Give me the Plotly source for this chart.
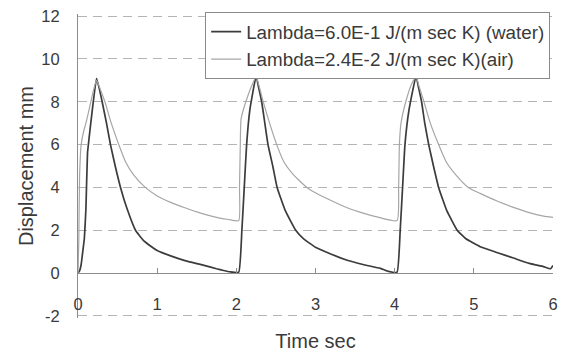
import plotly.graph_objects as go

# ---- data ----
water_t = [0.00, 0.02, 0.04, 0.06, 0.08, 0.10, 0.12, 0.14, 0.18, 0.234,
           0.27, 0.305, 0.36, 0.41, 0.47, 0.537, 0.62, 0.726, 0.82, 0.92,
           1.00, 1.17, 1.35, 1.58, 1.75, 1.84, 1.92, 2.03,
           2.07, 2.10, 2.13, 2.17, 2.25, 2.28, 2.32, 2.36, 2.40, 2.46,
           2.515, 2.62, 2.75, 2.85, 3.00, 3.20, 3.40, 3.60, 3.82, 3.92, 4.03,
           4.07, 4.10, 4.13, 4.18, 4.27, 4.30, 4.34, 4.38, 4.43, 4.49,
           4.555, 4.66, 4.79, 4.90, 5.08, 5.30, 5.50, 5.70, 5.88, 5.97, 6.00]
water_v = [0.0, 0.1, 0.4, 1.0, 1.6, 3.0, 5.6, 6.3, 7.6, 9.1,
           8.6, 8.0, 7.0, 6.0, 5.0, 4.0, 3.0, 2.0, 1.55, 1.25,
           1.05, 0.8, 0.58, 0.37, 0.2, 0.12, 0.06, 0.04,
           2.0, 4.0, 6.0, 7.6, 9.2, 8.7, 8.0, 7.0, 6.0, 5.0,
           4.0, 2.9, 2.0, 1.6, 1.2, 0.88, 0.6, 0.4, 0.22, 0.08, 0.04,
           2.0, 4.0, 6.0, 7.6, 9.2, 8.7, 8.0, 7.0, 6.0, 5.0,
           4.0, 2.9, 2.0, 1.6, 1.23, 0.95, 0.7, 0.45, 0.3, 0.2, 0.35]

air_t = [0.00, 0.01, 0.02, 0.04, 0.07, 0.10, 0.15, 0.20, 0.234,
         0.28, 0.34, 0.42, 0.515, 0.60, 0.70, 0.85, 1.00, 1.17, 1.35,
         1.55, 1.75, 1.90, 2.03,
         2.04, 2.05, 2.06, 2.12, 2.20, 2.25, 2.29, 2.34, 2.42, 2.51,
         2.60, 2.72, 2.89, 3.00, 3.19, 3.40, 3.60, 3.80, 4.03,
         4.05, 4.06, 4.08, 4.14, 4.21, 4.27, 4.31, 4.37, 4.45, 4.555,
         4.65, 4.77, 4.93, 5.08, 5.30, 5.50, 5.70, 5.88, 6.00]
air_v = [0.0, 1.5, 4.5, 6.0, 6.6, 7.0, 7.8, 8.6, 9.0,
         8.6, 8.0, 7.0, 6.0, 5.2, 4.6, 4.0, 3.6, 3.3, 3.05,
         2.8, 2.6, 2.5, 2.45,
         4.0, 6.0, 7.2, 8.0, 8.8, 9.15, 8.7, 8.0, 7.0, 6.0,
         5.2, 4.6, 4.0, 3.75, 3.4, 3.05, 2.8, 2.6, 2.45,
         4.0, 6.0, 7.0, 8.0, 8.8, 9.15, 8.7, 8.0, 7.0, 6.0,
         5.2, 4.6, 4.0, 3.72, 3.35, 3.07, 2.82, 2.66, 2.6]

series_names = ["Lambda=6.0E-1 J/(m sec K) (water)",
                "Lambda=2.4E-2 J/(m sec K)(air)"]

x_range = [0, 6]
y_range = [-2.1, 12.1]   # a little wider so the -2 and 12 grid lines show
x_ticks = [0, 1, 2, 3, 4, 5, 6]
y_ticks = [-2, 0, 2, 4, 6, 8, 10, 12]
y_tick_text = ["-2", "0", "2", "4", "6", "8", "10", "12"]

FONT = "Arial, Liberation Sans, sans-serif"
TXT = "#3a3a3a"
AX = "#8c8c8c"

fig = go.Figure()
fig.add_trace(go.Scatter(x=water_t, y=water_v, mode="lines", name=series_names[0],
                         line=dict(color="#3c3c3c", width=1.7, shape="spline", smoothing=0.35)))
fig.add_trace(go.Scatter(x=air_t, y=air_v, mode="lines", name=series_names[1],
                         line=dict(color="#a6a6a6", width=1.2, shape="spline", smoothing=0.5)))

# x axis crosses the y axis at y = 0
zero_pos = (0 - y_range[0]) / (y_range[1] - y_range[0])

fig.update_layout(
    template="none",
    width=561, height=352,
    margin=dict(l=78, r=8, t=14, b=34),
    paper_bgcolor="white", plot_bgcolor="white",
    font=dict(family=FONT, size=16.5, color=TXT),
    showlegend=True,
    legend=dict(x=0.994, xanchor="right", y=1.007, yanchor="top",
                bgcolor="white", bordercolor="#8a8a8a", borderwidth=1,
                font=dict(family=FONT, size=18.8, color=TXT),
                tracegroupgap=0, itemwidth=30),
    xaxis=dict(range=x_range, tickvals=x_ticks, anchor="free", position=zero_pos,
               showline=True, linecolor=AX, linewidth=1,
               ticks="inside", ticklen=5, tickcolor=AX, ticklabelstandoff=16,
               showgrid=False, zeroline=False, automargin=False,
               tickfont=dict(size=16.5, color=TXT),
               title=dict(text="Time sec", font=dict(size=20, color=TXT), standoff=22)),
    yaxis=dict(range=y_range, tickvals=y_ticks, ticktext=y_tick_text,
               showline=True, linecolor=AX, linewidth=1, ticks="",
               ticklabelstandoff=14,
               showgrid=True, gridcolor="#b4b4b4", gridwidth=1, griddash="9px,6px",
               zeroline=False, automargin=False,
               tickfont=dict(size=16.5, color=TXT),
               title=dict(text="Displacement mm", font=dict(size=20, color=TXT), standoff=2)),
)

fig.write_html("out.html")
